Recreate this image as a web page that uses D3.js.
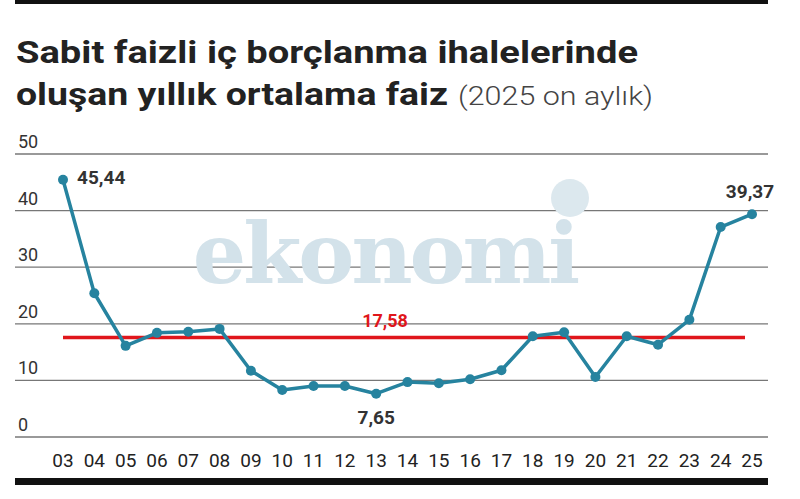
<!DOCTYPE html>
<html><head><meta charset="utf-8">
<script src="https://cdn.jsdelivr.net/npm/d3@7"></script>
<style>body{margin:0;background:#fff}svg{display:block}</style>
</head><body>
<svg id="canvas" width="800" height="499"></svg>
<script>
const months = ['03','04','05','06','07','08','09','10','11','12','13','14','15','16','17','18','19','20','21','22','23','24','25']
const rates = [45.44,25.4,16.1,18.4,18.6,19.1,11.7,8.3,9.0,9.0,7.65,9.7,9.5,10.2,11.8,17.8,18.5,10.6,17.8,16.3,20.7,37.1,39.37]
const average = 17.58
const yTicks = [0,10,20,30,40,50]

let canvas = d3.select('#canvas')
const font = "'Liberation Sans Narrow','Roboto',sans-serif"

// top rule + title
canvas.append('rect').attr('x',15).attr('y',0).attr('width',753).attr('height',4).attr('fill','#111')
canvas.append('text').attr('x',16).attr('y',63).attr('font-family','Roboto,sans-serif')
    .attr('font-weight',700).attr('font-size',32).attr('fill','#222')
    .attr('textLength',622).attr('lengthAdjust','spacingAndGlyphs')
    .text('Sabit faizli iç borçlanma ihalelerinde')
let t2 = canvas.append('text').attr('x',16).attr('y',105).attr('font-family','Roboto,sans-serif')
    .attr('font-size',32).attr('fill','#222')
t2.append('tspan').attr('font-weight',700).attr('textLength',432).attr('lengthAdjust','spacingAndGlyphs')
    .text('oluşan yıllık ortalama faiz')
t2.append('tspan').attr('font-weight',300).attr('font-size',25).attr('fill','#444').attr('dx',10)
    .attr('textLength',195).attr('lengthAdjust','spacingAndGlyphs').text('(2025 on aylık)')

let x = d3.scalePoint().domain(months).range([63,752])
let y = d3.scaleLinear().domain([0,50]).range([437,154])

// gridlines
canvas.selectAll('.grid').data(yTicks).enter().append('line')
    .attr('x1',15).attr('x2',768).attr('y1',d=>y(d)).attr('y2',d=>y(d))
    .attr('stroke','#777').attr('stroke-width',1.3)
canvas.selectAll('.ylab').data(yTicks).enter().append('text')
    .attr('x',18).attr('y',d=>y(d)-6).attr('font-family',font).attr('font-size',18)
    .attr('fill','#333').text(d=>d)

// watermark
canvas.append('text').attr('x',385).attr('y',283).attr('text-anchor','middle')
    .attr('font-family','DejaVu Serif,serif').attr('font-weight',700).attr('font-size',84)
    .attr('fill','#d3e2ea').attr('letter-spacing',-3).text('ekonomi')
canvas.append('circle').attr('cx',570).attr('cy',198).attr('r',19).attr('fill','#dce8ee')

// x axis labels
canvas.selectAll('.xlab').data(months).enter().append('text')
    .attr('x',d=>x(d)).attr('y',467).attr('text-anchor','middle')
    .attr('font-family',font).attr('font-size',19).attr('fill','#222').text(d=>d)

// average line
canvas.append('line').attr('x1',x('03')).attr('x2',745).attr('y1',y(average)).attr('y2',y(average))
    .attr('stroke','#e0161b').attr('stroke-width',3.5)
canvas.append('text').attr('x',385).attr('y',y(20)+3).attr('text-anchor','middle')
    .attr('font-family',font).attr('font-weight',700).attr('font-size',18).attr('fill','#e0161b')
    .text('17,58')

// series
let line = d3.line().x((d,i)=>x(months[i])).y(d=>y(d))
canvas.append('path').datum(rates).attr('d',line).attr('fill','none')
    .attr('stroke','#26839f').attr('stroke-width',3.5).attr('stroke-linejoin','round')
canvas.selectAll('.dot').data(rates).enter().append('circle')
    .attr('cx',(d,i)=>x(months[i])).attr('cy',d=>y(d)).attr('r',5).attr('fill','#26839f')

// value labels
const labels = [[0,'45,44',14,4,'start'],[10,'7,65',0,30,'middle'],[22,'39,37',-2,-16,'middle']]
labels.forEach(l=>{
    canvas.append('text').attr('x',x(months[l[0]])+l[2]).attr('y',y(rates[l[0]])+l[3])
        .attr('text-anchor',l[4]).attr('font-family',font).attr('font-weight',700)
        .attr('font-size',19).attr('fill','#333').text(l[1])
})

canvas.append('rect').attr('x',15).attr('y',478).attr('width',753).attr('height',7).attr('fill','#111')
</script>
</body></html>
